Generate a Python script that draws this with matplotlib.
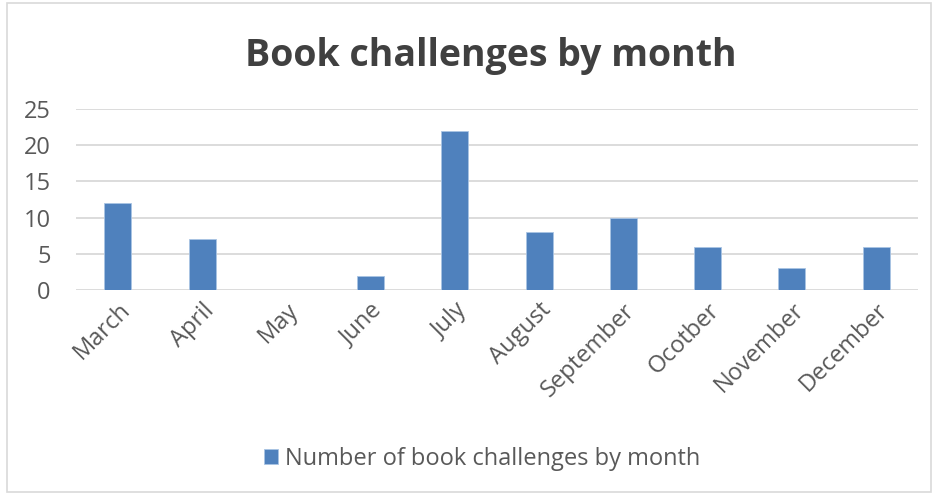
import matplotlib
matplotlib.use('Agg')
import matplotlib.pyplot as plt
from matplotlib.patches import Rectangle

plt.rcParams['font.family'] = ['Open Sans', 'DejaVu Sans']

months = ['March', 'April', 'May', 'June', 'July', 'August', 'September',
          'Ocotber', 'November', 'December']
challenges = [12, 7, 0, 2, 22, 8, 10, 6, 3, 6]

bar_color = '#4f81bd'
text_color = '#595959'
grid_color = '#d9d9d9'

fig = plt.figure(figsize=(9.36, 4.95), dpi=100)
ax = fig.add_axes([0.081, 0.414, 0.900, 0.366])

x = range(len(months))
bars = ax.bar(x, challenges, width=0.32, color=bar_color, edgecolor='#a9c4e4',
              linewidth=0.6, zorder=3, label='Number of book challenges by month')

ax.set_xlim(-0.5, len(months) - 0.5)
ax.set_ylim(0, 25)
ax.set_yticks(range(0, 26, 5))
ax.yaxis.grid(True, color=grid_color, linewidth=1.3, zorder=0)
for s in ax.spines.values():
    s.set_visible(False)
ax.tick_params(axis='both', length=0, colors=text_color, labelsize=17)
ax.tick_params(axis='y', pad=18)
ax.set_xticks(list(x))
ax.set_xticklabels(months, rotation=45, ha='right', rotation_mode='anchor')
ax.tick_params(axis='x', pad=6)

fig.text(0.524, 0.886, 'Book challenges by month', ha='center', va='center',
         fontsize=27, fontweight='bold', color='#404040')

leg = fig.legend(handles=[bars], loc='center', bbox_to_anchor=(0.515, 0.073),
                 frameon=False, fontsize=17, handlelength=0.6, handleheight=0.6,
                 handletextpad=0.3)
for t in leg.get_texts():
    t.set_color(text_color)

fig.patches.append(Rectangle((0.007, 0.006), 0.988, 0.988, transform=fig.transFigure,
                             fill=False, edgecolor='#d9d9d9', linewidth=1.2))

fig.savefig('out.png', dpi=100)
